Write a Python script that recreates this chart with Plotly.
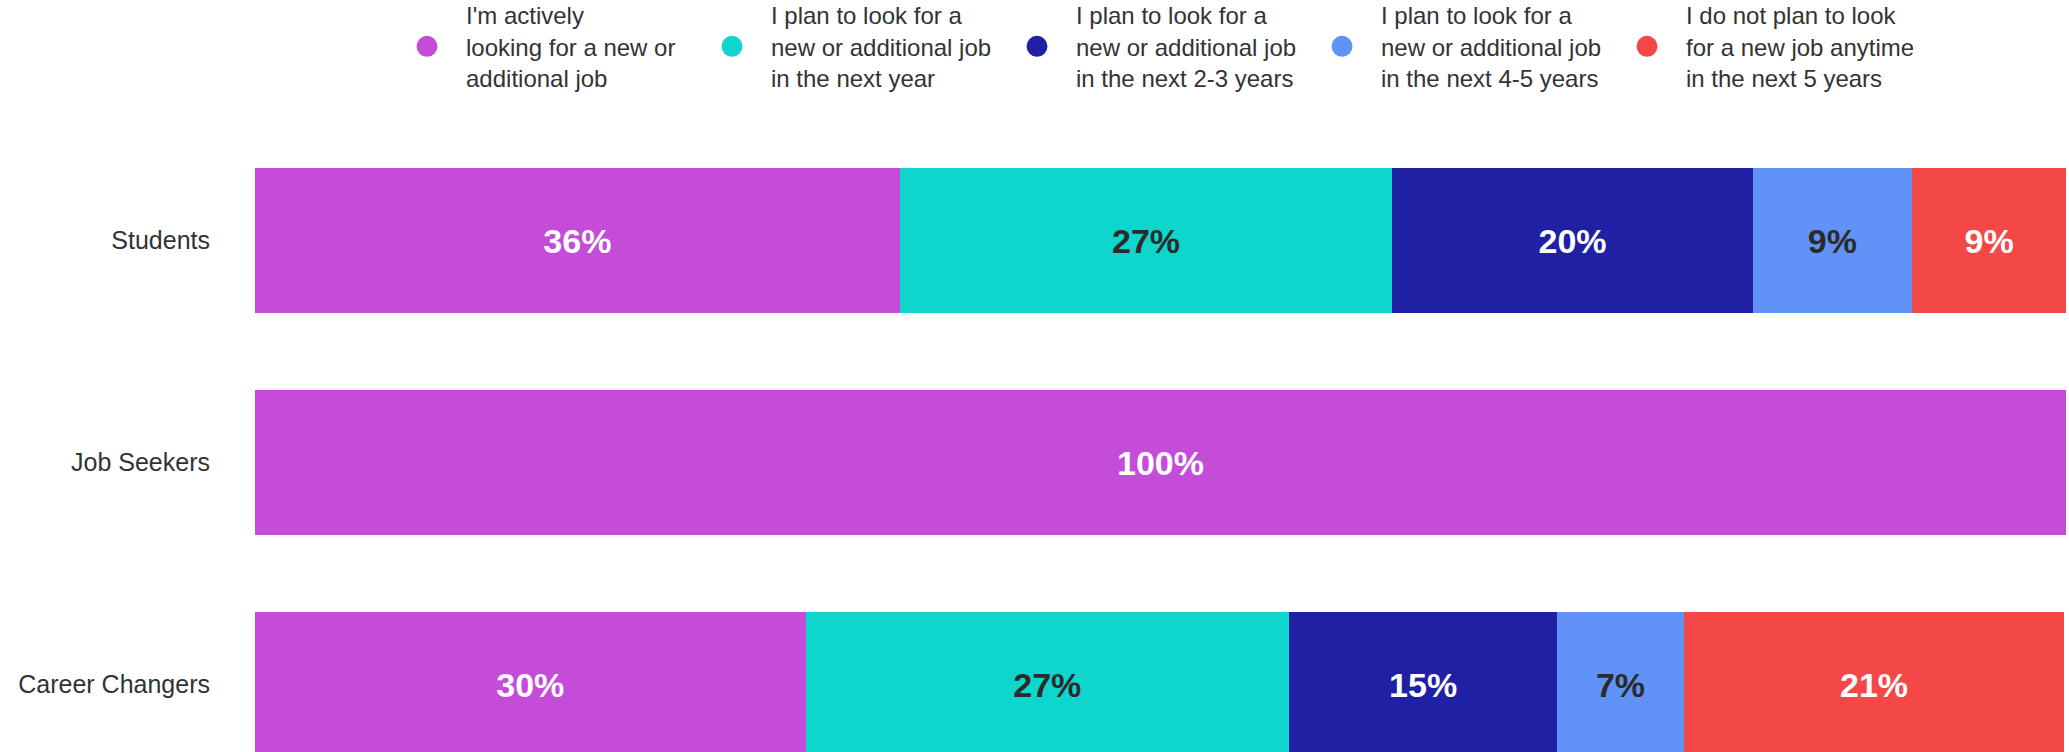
import plotly.graph_objects as go

categories = ["Students", "Job Seekers", "Career Changers"]

series_names = [
    "I'm actively<br>looking for a new or<br>additional job",
    "I plan to look for a<br>new or additional job<br>in the next year",
    "I plan to look for a<br>new or additional job<br>in the next 2-3 years",
    "I plan to look for a<br>new or additional job<br>in the next 4-5 years",
    "I do not plan to look<br>for a new job anytime<br>in the next 5 years",
]
series_colors = ["#C44CD8", "#0ED6CC", "#1F20A3", "#6192F5", "#F44848"]
label_colors = ["#FFFFFF", "#2B2B2B", "#FFFFFF", "#2B2B2B", "#FFFFFF"]

actively = [35.6, 100.0, 30.4]
next_year = [27.2, 0.0, 26.7]
two_three_years = [19.9, 0.0, 14.8]
four_five_years = [8.8, 0.0, 7.0]
not_planning = [8.5, 0.0, 21.0]

actively_labels = ["36%", "100%", "30%"]
next_year_labels = ["27%", "", "27%"]
two_three_labels = ["20%", "", "15%"]
four_five_labels = ["9%", "", "7%"]
not_planning_labels = ["9%", "", "21%"]

series_values = [actively, next_year, two_three_years, four_five_years, not_planning]
series_labels = [actively_labels, next_year_labels, two_three_labels,
                 four_five_labels, not_planning_labels]

FONT = "Arial, Liberation Sans, sans-serif"

fig = go.Figure()
for name, vals, labs, col, tcol in zip(series_names, series_values, series_labels,
                                       series_colors, label_colors):
    fig.add_trace(go.Bar(
        y=categories, x=vals, orientation="h", name=name,
        marker=dict(color=col, line=dict(width=0)),
        text=labs, textposition="inside", insidetextanchor="middle",
        textangle=0, constraintext="none",
        textfont=dict(family=FONT, size=34, color=tcol, weight="bold"),
        width=0.653, showlegend=False, legendgroup=name, hoverinfo="skip",
    ))
    fig.add_trace(go.Scatter(
        x=[None], y=[None], mode="markers", name=name, legendgroup=name,
        marker=dict(symbol="circle", size=16, color=col, line=dict(color=col, width=5)),
        showlegend=True,
    ))

fig.update_layout(
    width=2069, height=752,
    barmode="stack",
    bargap=0.347,
    plot_bgcolor="white", paper_bgcolor="white",
    margin=dict(l=255, r=3, t=120, b=0, pad=0, autoexpand=False),
    font=dict(family=FONT, size=24, color="#333333"),
    showlegend=True,
    legend=dict(
        orientation="h", xref="paper", yref="paper",
        x=(388 - 255) / 1811, xanchor="left", y=1 + 127 / 632, yanchor="top",
        font=dict(family=FONT, size=24, color="#333333"),
        entrywidth=222, entrywidthmode="pixels",
        itemwidth=68, valign="middle", traceorder="normal",
        bgcolor="rgba(0,0,0,0)",
    ),
    xaxis=dict(range=[0, 100], showgrid=False, zeroline=False,
               showticklabels=False, showline=False, ticks="", fixedrange=True),
    yaxis=dict(categoryorder="array", categoryarray=categories,
               range=[2.304, -0.543], autorange=False, fixedrange=True,
               showgrid=False, zeroline=False, showline=False, ticks="",
               ticklabelstandoff=44,
               tickfont=dict(family=FONT, size=25, color="#333333")),
)

fig.write_html(
    "out.html",
    config={"displayModeBar": False},
    post_script="document.body.style.margin='0';document.body.style.overflow='hidden';",
)
